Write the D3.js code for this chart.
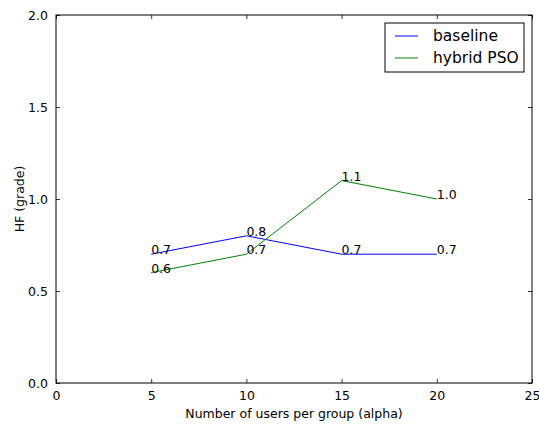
<!DOCTYPE html>
<html>
<head>
<meta charset="utf-8">
<script src="https://cdn.jsdelivr.net/npm/d3@7"></script>
<style>
  body { margin: 0; background: #fff; }
  svg { font-family: "DejaVu Sans", sans-serif; }
</style>
</head>
<body>
<div id="chart"></div>
<script>
const users = [5, 10, 15, 20];
const baseline = [0.7, 0.8, 0.7, 0.7];
const hybridPSO = [0.6, 0.7, 1.1, 1.0];
const xTicks = [0, 5, 10, 15, 20, 25];
const yTicks = [0.0, 0.5, 1.0, 1.5, 2.0];

const series = [
  {name: 'baseline', values: baseline, color: '#0000ff'},
  {name: 'hybrid PSO', values: hybridPSO, color: '#008000'}
];

const width = 539, height = 426;
const margin = {top: 15, right: 7, bottom: 43, left: 56};
const innerW = width - margin.left - margin.right;
const innerH = height - margin.top - margin.bottom;
const fs = 12.5;

const svg = d3.select('#chart').append('svg')
  .attr('width', width).attr('height', height);

const g = svg.append('g')
  .attr('transform', 'translate(' + margin.left + ',' + margin.top + ')');

const x = d3.scaleLinear().domain([0, 25]).range([0, innerW]);
const y = d3.scaleLinear().domain([0, 2]).range([innerH, 0]);

// axes, ticks pointing inward like old matplotlib
const fmtY = d3.format('.1f');
const axBottom = g.append('g').attr('transform', 'translate(0,' + innerH + ')')
  .call(d3.axisBottom(x).tickValues(xTicks).tickSizeInner(-4).tickSizeOuter(0).tickPadding(8));
const axTop = g.append('g')
  .call(d3.axisTop(x).tickValues(xTicks).tickSizeInner(-4).tickSizeOuter(0).tickFormat(''));
const axLeft = g.append('g')
  .call(d3.axisLeft(y).tickValues(yTicks).tickSizeInner(-4).tickSizeOuter(0).tickPadding(8).tickFormat(fmtY));
const axRight = g.append('g').attr('transform', 'translate(' + innerW + ',0)')
  .call(d3.axisRight(y).tickValues(yTicks).tickSizeInner(-4).tickSizeOuter(0).tickFormat(''));

[axBottom, axTop, axLeft, axRight].forEach(a => {
  a.select('.domain').remove();
  a.selectAll('line').attr('stroke', '#000').attr('stroke-width', 0.8);
  a.selectAll('text').attr('font-size', fs).attr('fill', '#000')
    .attr('font-family', '"DejaVu Sans", sans-serif');
});

g.append('rect')
  .attr('width', innerW).attr('height', innerH)
  .attr('fill', 'none').attr('stroke', '#000').attr('stroke-width', 1);

const line = d3.line()
  .x((d, i) => x(users[i]))
  .y(d => y(d));

series.forEach(s => {
  g.append('path')
    .datum(s.values)
    .attr('fill', 'none')
    .attr('stroke', s.color)
    .attr('stroke-width', 1)
    .attr('d', line);

  g.selectAll(null)
    .data(s.values)
    .enter()
    .append('text')
    .attr('x', (d, i) => x(users[i]))
    .attr('y', d => y(d))
    .attr('font-size', fs)
    .attr('fill', '#000')
    .text(d => d.toFixed(1));
});

// axis labels
svg.append('text')
  .attr('x', margin.left + innerW / 2)
  .attr('y', 418)
  .attr('text-anchor', 'middle')
  .attr('font-size', fs)
  .text('Number of users per group (alpha)');

svg.append('text')
  .attr('transform', 'translate(24,' + (margin.top + innerH / 2) + ') rotate(-90)')
  .attr('text-anchor', 'middle')
  .attr('font-size', fs)
  .text('HF (grade)');

// legend
const legend = svg.append('g').attr('transform', 'translate(385,23)');
legend.append('rect')
  .attr('width', 139).attr('height', 49)
  .attr('fill', '#fff').attr('stroke', '#000').attr('stroke-width', 1);

const item = legend.selectAll('.item')
  .data(series)
  .enter()
  .append('g')
  .attr('class', 'item')
  .attr('transform', (d, i) => 'translate(0,' + (13 + i * 22) + ')');

item.append('line')
  .attr('x1', 10).attr('x2', 33)
  .attr('stroke', d => d.color).attr('stroke-width', 1);

item.append('text')
  .attr('x', 48).attr('dy', '0.35em')
  .attr('font-size', 15.5)
  .text(d => d.name);
</script>
</body>
</html>
